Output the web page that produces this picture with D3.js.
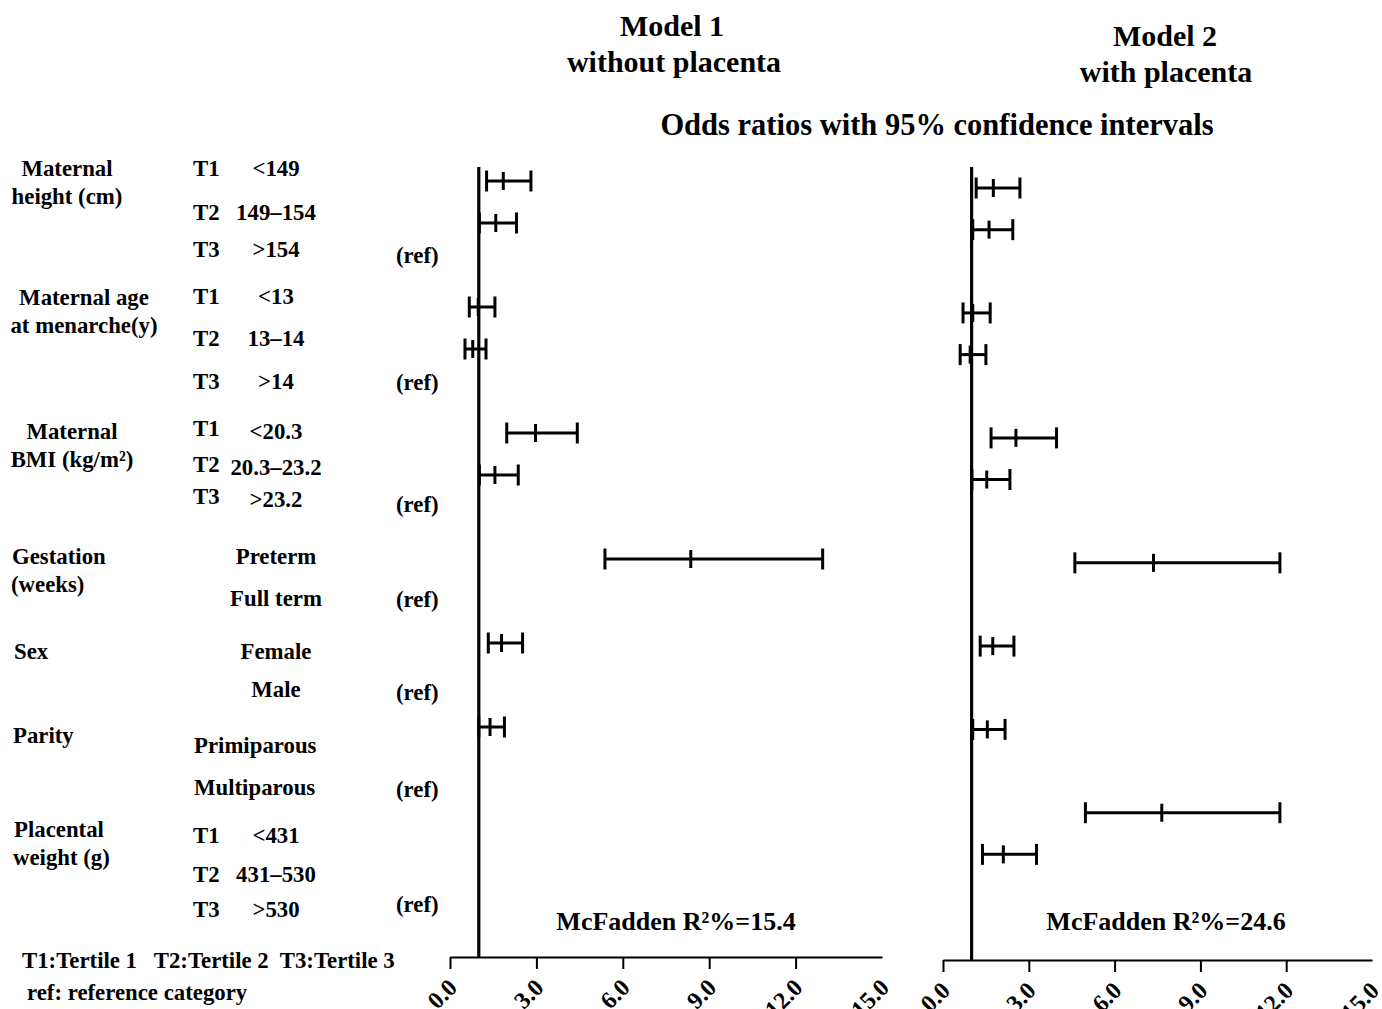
<!DOCTYPE html>
<style>
    body { margin: 0; background: #fff; }
    text { font-family: "Liberation Serif", "Times New Roman", serif; font-weight: bold; fill: #000; }
</style>
<body>

<script src="https://d3js.org/d3.v7.min.js"></script>
<script>
    // rows of the table, top to bottom
    var rows = ["ht_T1", "ht_T2", "ht_T3", "men_T1", "men_T2", "men_T3", "bmi_T1", "bmi_T2", "bmi_T3",
                "preterm", "fullterm", "female", "male", "primi", "multi", "pw_T1", "pw_T2", "pw_T3"];
    var tertiles = ["T1", "T2", "T3", "T1", "T2", "T3", "T1", "T2", "T3", "", "", "", "", "", "", "T1", "T2", "T3"];
    var levels = ["<149", "149\u2013154", ">154", "<13", "13\u201314", ">14", "<20.3", "20.3\u201323.2", ">23.2",
                  "Preterm", "Full term", "Female", "Male", "Primiparous", "Multiparous", "<431", "431\u2013530", ">530"];
    var refRows = ["ht_T3", "men_T3", "bmi_T3", "fullterm", "male", "multi", "pw_T3"];
    var groups = [["Maternal", "height (cm)"], ["Maternal age", "at menarche(y)"], ["Maternal", "BMI (kg/m\u00b2)"],
                  ["Gestation", "(weeks)"], ["Sex"], ["Parity"], ["Placental", "weight (g)"]];

    // Model 1: without placenta
    var m1Rows = ["ht_T1", "ht_T2", "men_T1", "men_T2", "bmi_T1", "bmi_T2", "preterm", "female", "primi"];
    var m1OR = [1.85, 1.59, 0.98, 0.79, 2.97, 1.56, 8.36, 1.79, 1.39];
    var m1Lo = [1.27, 1.02, 0.67, 0.52, 1.97, 1.02, 5.38, 1.33, 1.00];
    var m1Hi = [2.81, 2.31, 1.56, 1.25, 4.42, 2.37, 12.94, 2.52, 1.89];

    // Model 2: with placenta
    var m2Rows = ["ht_T1", "ht_T2", "men_T1", "men_T2", "bmi_T1", "bmi_T2", "preterm", "female", "primi", "pw_T1", "pw_T2"];
    var m2OR = [1.76, 1.61, 1.04, 0.95, 2.55, 1.53, 7.36, 1.74, 1.55, 7.65, 2.11];
    var m2Lo = [1.16, 1.04, 0.70, 0.60, 1.68, 1.01, 4.61, 1.30, 1.04, 4.98, 1.38];
    var m2Hi = [2.69, 2.44, 1.65, 1.50, 3.97, 2.34, 11.78, 2.48, 2.17, 11.78, 3.27];

    var xTicks = [0, 3, 6, 9, 12, 15];
    var r2 = [15.4, 24.6];

    var width = 1382, height = 1009;
    var svg = d3.select("body").append("svg")
        .attr("width", width)
        .attr("height", height);

    // ---- left table ----
    var yLab = d3.scalePoint().domain(rows).range([176, 916]);
    // small hand nudges so the labels sit like the original
    var nudge = [0, 0, -6, -3, -4, -5, 2, -6, -17, -4, -5, 4, -1, 11, 10, 14, 10, 1];
    var refNudge = {ht_T3: 0, men_T3: -4, bmi_T3: -12, fullterm: -4, male: 2, multi: 12, pw_T3: -4};

    var tbl = svg.append("g").attr("font-size", 22.8);

    tbl.selectAll(".tert")
        .data(rows)
        .enter().append("text")
        .attr("x", 193)
        .attr("y", function(d, i) { return yLab(d) + nudge[i] + (d.indexOf("bmi") == 0 ? -3 : 0); })
        .text(function(d, i) { return tertiles[i]; });

    tbl.selectAll(".lev")
        .data(rows)
        .enter().append("text")
        .attr("x", function(d, i) { return (d == "primi" || d == "multi") ? 194 : 276; })
        .attr("text-anchor", function(d) { return (d == "primi" || d == "multi") ? "start" : "middle"; })
        .attr("y", function(d, i) { return yLab(d) + nudge[i]; })
        .text(function(d, i) { return levels[i]; });

    tbl.selectAll(".ref")
        .data(refRows)
        .enter().append("text")
        .attr("x", 396)
        .attr("y", function(d) { return yLab(d) + refNudge[d]; })
        .text("(ref)");

    var groupPos = [
        {x: 67, anchor: "middle", y: 176},
        {x: 84, anchor: "middle", y: 305},
        {x: 72, anchor: "middle", y: 439},
        {x: 12, anchor: "start", y: 564},
        {x: 14, anchor: "start", y: 659},
        {x: 13, anchor: "start", y: 743},
        {x: 14, anchor: "start", y: 837}
    ];
    groups.forEach(function(lines, gi) {
        var p = groupPos[gi];
        lines.forEach(function(s, li) {
            tbl.append("text")
                .attr("x", p.x - (p.anchor == "start" ? li : 0))
                .attr("y", p.y + li * 28)
                .attr("text-anchor", p.anchor)
                .text(s);
        });
    });

    tbl.append("text").attr("x", 22).attr("y", 968).attr("xml:space", "preserve")
        .text("T1:Tertile 1   T2:Tertile 2  T3:Tertile 3");
    tbl.append("text").attr("x", 27).attr("y", 1000).text("ref: reference category");

    // ---- titles ----
    var titles = svg.append("g").attr("font-size", 30).attr("text-anchor", "middle");
    titles.append("text").attr("x", 672).attr("y", 36).text("Model 1");
    titles.append("text").attr("x", 674).attr("y", 72).text("without placenta");
    titles.append("text").attr("x", 1165).attr("y", 46).text("Model 2");
    titles.append("text").attr("x", 1166).attr("y", 82).text("with placenta");
    titles.append("text").attr("x", 937).attr("y", 135).attr("font-size", 30.5)
        .text("Odds ratios with 95% confidence intervals");

    // ---- panels ----
    var panels = [
        {x0: 450, x1: 882, yTop: 167, axisY: 957, yRange: [181, 895], rows: m1Rows, or: m1OR, lo: m1Lo, hi: m1Hi, r2: r2[0], r2x: 676},
        {x0: 943, x1: 1372, yTop: 167, axisY: 960, yRange: [188, 896], rows: m2Rows, or: m2OR, lo: m2Lo, hi: m2Hi, r2: r2[1], r2x: 1166}
    ];

    panels.forEach(function(p) {
        var x = d3.scaleLinear().domain([0, 15]).range([p.x0, p.x1]);
        var y = d3.scalePoint().domain(rows).range(p.yRange);
        var g = svg.append("g");

        var ax = g.append("g")
            .attr("transform", "translate(0," + p.axisY + ")")
            .call(d3.axisBottom(x).tickValues(xTicks).tickSize(12).tickSizeOuter(0).tickFormat(d3.format(".1f")));
        ax.select(".domain").attr("stroke", "#000").attr("stroke-width", 2);
        ax.selectAll(".tick line").attr("stroke", "#000").attr("stroke-width", 2)
            .filter(function(d) { return d == 15; }).remove();
        ax.selectAll(".tick text").remove();
        ax.selectAll(".tick").append("text")
            .attr("font-size", 24)
            .attr("text-anchor", "end")
            .attr("transform", "translate(8,32) rotate(-45)")
            .text(d3.format(".1f"));

        // reference line at OR = 1
        g.append("line")
            .attr("x1", x(1)).attr("x2", x(1))
            .attr("y1", p.yTop).attr("y2", p.axisY)
            .attr("stroke", "#000").attr("stroke-width", 3.2);

        var bars = g.selectAll(".ci")
            .data(p.rows)
            .enter().append("g")
            .attr("stroke", "#000")
            .attr("stroke-width", 3);

        bars.append("line")
            .attr("x1", function(d, i) { return x(p.lo[i]); })
            .attr("x2", function(d, i) { return x(p.hi[i]); })
            .attr("y1", function(d) { return y(d); })
            .attr("y2", function(d) { return y(d); });
        bars.append("line")
            .attr("x1", function(d, i) { return x(p.lo[i]); })
            .attr("x2", function(d, i) { return x(p.lo[i]); })
            .attr("y1", function(d) { return y(d) - 10.5; })
            .attr("y2", function(d) { return y(d) + 10.5; });
        bars.append("line")
            .attr("x1", function(d, i) { return x(p.hi[i]); })
            .attr("x2", function(d, i) { return x(p.hi[i]); })
            .attr("y1", function(d) { return y(d) - 10.5; })
            .attr("y2", function(d) { return y(d) + 10.5; });
        bars.append("line")
            .attr("x1", function(d, i) { return x(p.or[i]); })
            .attr("x2", function(d, i) { return x(p.or[i]); })
            .attr("y1", function(d) { return y(d) - 9; })
            .attr("y2", function(d) { return y(d) + 9; });

        g.append("text")
            .attr("x", p.r2x)
            .attr("y", 930)
            .attr("font-size", 26)
            .attr("text-anchor", "middle")
            .text("McFadden R\u00b2%=" + p.r2);
    });
</script>
</body>
